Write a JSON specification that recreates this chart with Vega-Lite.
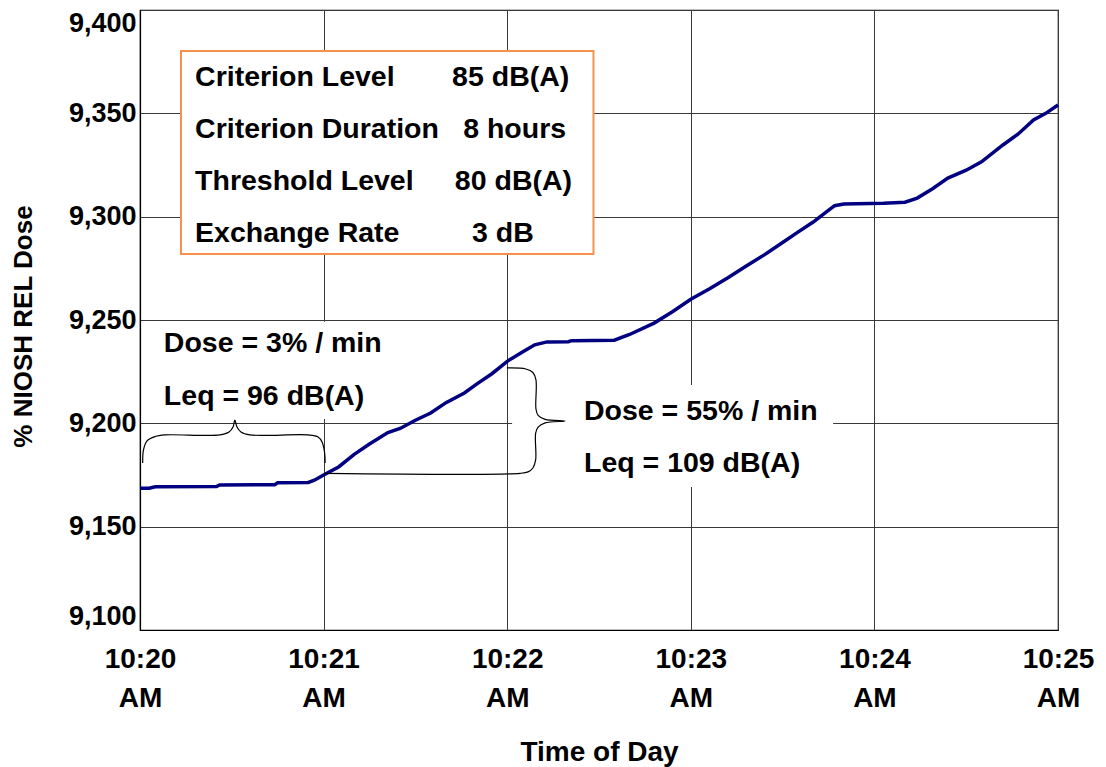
{
  "$schema": "https://vega.github.io/schema/vega-lite/v6.json",
  "width": 918,
  "height": 620,
  "autosize": {"type": "none"},
  "padding": {"left": 140, "top": 10, "right": 48, "bottom": 137},
  "background": "white",
  "config": {
    "font": "Liberation Sans",
    "view": {"stroke": "black", "strokeWidth": 1.2},
    "axis": {
      "labelFont": "Liberation Sans",
      "titleFont": "Liberation Sans",
      "labelFontWeight": "bold",
      "titleFontWeight": "bold",
      "labelColor": "black",
      "titleColor": "black",
      "gridColor": "#3a3a3a",
      "gridOpacity": 1,
      "gridWidth": 1,
      "domainColor": "black",
      "domainWidth": 1.2,
      "ticks": false
    }
  },
  "datasets": {
    "dose": [
      {"t": "2024-01-01T10:20:00Z", "v": 9168.6},
      {"t": "2024-01-01T10:20:03Z", "v": 9168.6},
      {"t": "2024-01-01T10:20:05Z", "v": 9169.3},
      {"t": "2024-01-01T10:20:25Z", "v": 9169.4},
      {"t": "2024-01-01T10:20:26Z", "v": 9170.2},
      {"t": "2024-01-01T10:20:44Z", "v": 9170.3},
      {"t": "2024-01-01T10:20:45Z", "v": 9171.2},
      {"t": "2024-01-01T10:20:55Z", "v": 9171.4},
      {"t": "2024-01-01T10:20:57Z", "v": 9172.5},
      {"t": "2024-01-01T10:21:00Z", "v": 9175.0},
      {"t": "2024-01-01T10:21:05Z", "v": 9179.0},
      {"t": "2024-01-01T10:21:10Z", "v": 9185.0},
      {"t": "2024-01-01T10:21:15Z", "v": 9190.0},
      {"t": "2024-01-01T10:21:21Z", "v": 9195.5},
      {"t": "2024-01-01T10:21:25Z", "v": 9197.5},
      {"t": "2024-01-01T10:21:30Z", "v": 9201.5},
      {"t": "2024-01-01T10:21:35Z", "v": 9205.0},
      {"t": "2024-01-01T10:21:40Z", "v": 9210.0},
      {"t": "2024-01-01T10:21:46Z", "v": 9214.7},
      {"t": "2024-01-01T10:21:50Z", "v": 9219.0},
      {"t": "2024-01-01T10:21:55Z", "v": 9224.0},
      {"t": "2024-01-01T10:22:00Z", "v": 9230.0},
      {"t": "2024-01-01T10:22:05Z", "v": 9234.5},
      {"t": "2024-01-01T10:22:09Z", "v": 9238.0},
      {"t": "2024-01-01T10:22:13Z", "v": 9239.4},
      {"t": "2024-01-01T10:22:20Z", "v": 9239.5},
      {"t": "2024-01-01T10:22:21Z", "v": 9240.0},
      {"t": "2024-01-01T10:22:35Z", "v": 9240.2},
      {"t": "2024-01-01T10:22:40Z", "v": 9243.0},
      {"t": "2024-01-01T10:22:48Z", "v": 9248.5},
      {"t": "2024-01-01T10:22:54Z", "v": 9254.0},
      {"t": "2024-01-01T10:23:00Z", "v": 9260.0},
      {"t": "2024-01-01T10:23:06Z", "v": 9265.0},
      {"t": "2024-01-01T10:23:12Z", "v": 9270.3},
      {"t": "2024-01-01T10:23:18Z", "v": 9276.0},
      {"t": "2024-01-01T10:23:24Z", "v": 9281.5},
      {"t": "2024-01-01T10:23:30Z", "v": 9287.5},
      {"t": "2024-01-01T10:23:35Z", "v": 9292.5},
      {"t": "2024-01-01T10:23:40Z", "v": 9297.4},
      {"t": "2024-01-01T10:23:44Z", "v": 9302.0},
      {"t": "2024-01-01T10:23:47Z", "v": 9305.3},
      {"t": "2024-01-01T10:23:50Z", "v": 9306.1},
      {"t": "2024-01-01T10:24:03Z", "v": 9306.5},
      {"t": "2024-01-01T10:24:10Z", "v": 9307.0},
      {"t": "2024-01-01T10:24:14Z", "v": 9309.0},
      {"t": "2024-01-01T10:24:19Z", "v": 9313.5},
      {"t": "2024-01-01T10:24:24Z", "v": 9318.7},
      {"t": "2024-01-01T10:24:30Z", "v": 9322.5},
      {"t": "2024-01-01T10:24:35Z", "v": 9326.5},
      {"t": "2024-01-01T10:24:42Z", "v": 9334.7},
      {"t": "2024-01-01T10:24:47Z", "v": 9340.0},
      {"t": "2024-01-01T10:24:52Z", "v": 9346.8},
      {"t": "2024-01-01T10:24:56Z", "v": 9350.0},
      {"t": "2024-01-01T10:25:00Z", "v": 9354.0}
    ],
    "mask": [
      {"t": "2024-01-01T10:20:03.300Z", "t2": "2024-01-01T10:21:25.000Z", "v": 9202.1, "v2": 9249.2},
      {"t": "2024-01-01T10:22:01.600Z", "t2": "2024-01-01T10:23:46.500Z", "v": 9169.2, "v2": 9218.5}
    ],
    "box": [
      {"t": "2024-01-01T10:20:13.400Z", "t2": "2024-01-01T10:22:28.200Z", "v": 9281.9, "v2": 9380.2}
    ],
    "braces": [
      {"b": 1, "i": 0, "t": "2024-01-01T10:20:00.880Z", "v": 9180.8},
      {"b": 1, "i": 1, "t": "2024-01-01T10:20:01.140Z", "v": 9187.1},
      {"b": 1, "i": 2, "t": "2024-01-01T10:20:02.290Z", "v": 9191.5},
      {"b": 1, "i": 3, "t": "2024-01-01T10:20:04.900Z", "v": 9193.6},
      {"b": 1, "i": 4, "t": "2024-01-01T10:20:08.170Z", "v": 9194.4},
      {"b": 1, "i": 5, "t": "2024-01-01T10:20:26.100Z", "v": 9194.4},
      {"b": 1, "i": 6, "t": "2024-01-01T10:20:29.100Z", "v": 9195.8},
      {"b": 1, "i": 7, "t": "2024-01-01T10:20:30.400Z", "v": 9198.2},
      {"b": 1, "i": 8, "t": "2024-01-01T10:20:31.000Z", "v": 9201.6},
      {"b": 1, "i": 9, "t": "2024-01-01T10:20:31.700Z", "v": 9198.2},
      {"b": 1, "i": 10, "t": "2024-01-01T10:20:33.000Z", "v": 9195.8},
      {"b": 1, "i": 11, "t": "2024-01-01T10:20:35.900Z", "v": 9194.4},
      {"b": 1, "i": 12, "t": "2024-01-01T10:20:54.900Z", "v": 9194.4},
      {"b": 1, "i": 13, "t": "2024-01-01T10:20:58.200Z", "v": 9193.4},
      {"b": 1, "i": 14, "t": "2024-01-01T10:20:59.500Z", "v": 9191.0},
      {"b": 1, "i": 15, "t": "2024-01-01T10:21:00.300Z", "v": 9186.1},
      {"b": 1, "i": 16, "t": "2024-01-01T10:21:00.500Z", "v": 9180.8},
      {"b": 2, "i": 0, "t": "2024-01-01T10:21:00.460Z", "v": 9175.8},
      {"b": 2, "i": 1, "t": "2024-01-01T10:22:04.200Z", "v": 9175.8},
      {"b": 2, "i": 2, "t": "2024-01-01T10:22:06.800Z", "v": 9176.5},
      {"b": 2, "i": 3, "t": "2024-01-01T10:22:08.400Z", "v": 9178.4},
      {"b": 2, "i": 4, "t": "2024-01-01T10:22:09.300Z", "v": 9182.3},
      {"b": 2, "i": 5, "t": "2024-01-01T10:22:09.300Z", "v": 9195.3},
      {"b": 2, "i": 6, "t": "2024-01-01T10:22:10.100Z", "v": 9198.2},
      {"b": 2, "i": 7, "t": "2024-01-01T10:22:12.400Z", "v": 9200.2},
      {"b": 2, "i": 8, "t": "2024-01-01T10:22:18.900Z", "v": 9201.1},
      {"b": 2, "i": 9, "t": "2024-01-01T10:22:12.400Z", "v": 9201.9},
      {"b": 2, "i": 10, "t": "2024-01-01T10:22:10.100Z", "v": 9203.8},
      {"b": 2, "i": 11, "t": "2024-01-01T10:22:09.400Z", "v": 9206.9},
      {"b": 2, "i": 12, "t": "2024-01-01T10:22:09.400Z", "v": 9221.0},
      {"b": 2, "i": 13, "t": "2024-01-01T10:22:08.400Z", "v": 9224.6},
      {"b": 2, "i": 14, "t": "2024-01-01T10:22:06.100Z", "v": 9226.3},
      {"b": 2, "i": 15, "t": "2024-01-01T10:21:59.900Z", "v": 9226.8}
    ],
    "labels": [
      {"t": "2024-01-01T10:20:18.000Z", "v": 9367.6, "s": "Criterion Level"},
      {"t": "2024-01-01T10:20:18.000Z", "v": 9342.4, "s": "Criterion Duration"},
      {"t": "2024-01-01T10:20:18.000Z", "v": 9317.3, "s": "Threshold Level"},
      {"t": "2024-01-01T10:20:18.000Z", "v": 9292.1, "s": "Exchange Rate"},
      {"t": "2024-01-01T10:21:42.000Z", "v": 9367.6, "s": "85 dB(A)"},
      {"t": "2024-01-01T10:21:45.600Z", "v": 9342.4, "s": "8 hours"},
      {"t": "2024-01-01T10:21:42.900Z", "v": 9317.3, "s": "80 dB(A)"},
      {"t": "2024-01-01T10:21:48.500Z", "v": 9292.1, "s": "3 dB"},
      {"t": "2024-01-01T10:20:07.800Z", "v": 9238.7, "s": "Dose = 3% / min"},
      {"t": "2024-01-01T10:20:07.800Z", "v": 9213.2, "s": "Leq = 96 dB(A)"},
      {"t": "2024-01-01T10:22:25.100Z", "v": 9206.0, "s": "Dose = 55% / min"},
      {"t": "2024-01-01T10:22:25.100Z", "v": 9180.8, "s": "Leq = 109 dB(A)"}
    ]
  },
  "encoding": {
    "x": {
      "field": "t",
      "type": "temporal",
      "scale": {"type": "utc", "domain": [{"year": 2024, "month": 1, "date": 1, "hours": 10, "minutes": 20, "utc": true}, {"year": 2024, "month": 1, "date": 1, "hours": 10, "minutes": 25, "utc": true}]},
      "axis": {
        "title": "Time of Day",
        "values": [
          {"year": 2024, "month": 1, "date": 1, "hours": 10, "minutes": 20, "utc": true},
          {"year": 2024, "month": 1, "date": 1, "hours": 10, "minutes": 21, "utc": true},
          {"year": 2024, "month": 1, "date": 1, "hours": 10, "minutes": 22, "utc": true},
          {"year": 2024, "month": 1, "date": 1, "hours": 10, "minutes": 23, "utc": true},
          {"year": 2024, "month": 1, "date": 1, "hours": 10, "minutes": 24, "utc": true},
          {"year": 2024, "month": 1, "date": 1, "hours": 10, "minutes": 25, "utc": true}
        ],
        "labelExpr": "[utcFormat(datum.value, '%-I:%M'), utcFormat(datum.value, '%p')]",
        "labelFontSize": 28,
        "labelLineHeight": 39,
        "labelPadding": 15,
        "labelBaseline": "top",
        "labelFlush": false,
        "labelOverlap": false,
        "titleFontSize": 28,
        "titleY": 130,
        "titleBaseline": "alphabetic",
        "grid": true
      }
    },
    "y": {
      "field": "v",
      "type": "quantitative",
      "scale": {"domain": [9100, 9400], "nice": false, "zero": false},
      "axis": {
        "title": "% NIOSH REL Dose",
        "values": [9100, 9150, 9200, 9250, 9300, 9350, 9400],
        "format": ",d",
        "labelFontSize": 27,
        "labelPadding": 4,
        "labelFlush": true,
        "titleFontSize": 26,
        "titleAngle": -90,
        "titleX": -117,
        "titleY": 316,
        "titleAlign": "center",
        "titleBaseline": "middle",
        "grid": true
      }
    }
  },
  "layer": [
    {
      "data": {"name": "mask"},
      "mark": {"type": "rect", "fill": "white", "strokeWidth": 0},
      "encoding": {"x2": {"field": "t2"}, "y2": {"field": "v2"}}
    },
    {
      "data": {"name": "box"},
      "mark": {"type": "rect", "fill": "white", "stroke": "#F4914D", "strokeWidth": 2},
      "encoding": {"x2": {"field": "t2"}, "y2": {"field": "v2"}}
    },
    {
      "data": {"name": "dose"},
      "mark": {"type": "line", "color": "#000080", "strokeWidth": 3.5, "interpolate": "linear"},
      "encoding": {}
    },
    {
      "data": {"name": "braces"},
      "mark": {"type": "line", "color": "black", "strokeWidth": 1.2, "interpolate": "catmull-rom"},
      "encoding": {
        "detail": {"field": "b", "type": "nominal"},
        "order": {"field": "i", "type": "quantitative"}
      }
    },
    {
      "data": {"name": "labels"},
      "mark": {"type": "text", "align": "left", "baseline": "middle", "font": "Liberation Sans", "fontWeight": "bold", "fontSize": 28.5, "color": "black"},
      "encoding": {"text": {"field": "s", "type": "nominal"}}
    }
  ]
}
